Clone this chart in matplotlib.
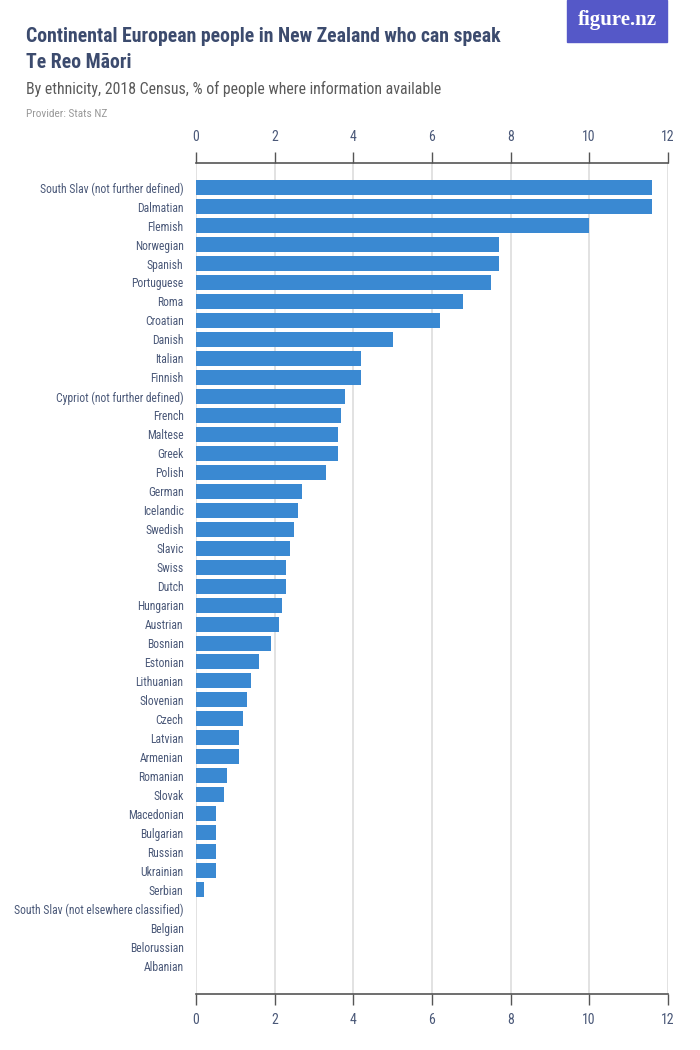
import matplotlib.pyplot as plt
from matplotlib import font_manager
from matplotlib.patches import Rectangle

# -------------------------
# DATA
# -------------------------
ethnicities = [
    "South Slav (not further defined)", "Dalmatian", "Flemish", "Norwegian",
    "Spanish", "Portuguese", "Roma", "Croatian", "Danish", "Italian",
    "Finnish", "Cypriot (not further defined)", "French", "Maltese", "Greek",
    "Polish", "German", "Icelandic", "Swedish", "Slavic", "Swiss", "Dutch",
    "Hungarian", "Austrian", "Bosnian", "Estonian", "Lithuanian", "Slovenian",
    "Czech", "Latvian", "Armenian", "Romanian", "Slovak", "Macedonian",
    "Bulgarian", "Russian", "Ukrainian", "Serbian",
    "South Slav (not elsewhere classified)", "Belgian", "Belorussian",
    "Albanian",
]
percent = [
    11.6, 11.6, 10.0, 7.7, 7.7, 7.5, 6.8, 6.2, 5.0, 4.2,
    4.2, 3.8, 3.7, 3.6, 3.6, 3.3, 2.7, 2.6, 2.5, 2.4,
    2.3, 2.3, 2.2, 2.1, 1.9, 1.6, 1.4, 1.3, 1.2, 1.1,
    1.1, 0.8, 0.7, 0.5, 0.5, 0.5, 0.5, 0.2, 0.0, 0.0,
    0.0, 0.0,
]
x_ticks = [0, 2, 4, 6, 8, 10, 12]


# pick a condensed face if one is installed, else plain sans
def pick_font():
    narrow = {}
    for f in font_manager.fontManager.ttflist:
        if f.style == 'normal' and str(f.stretch) in (
                'condensed', 'semi-condensed', 'extra-condensed', '75', '87'):
            narrow.setdefault(f.name, f.stretch)
    for name in ['Roboto Condensed', 'Liberation Sans Narrow', 'Noto Sans',
                 'Open Sans', 'DejaVu Sans', 'Roboto', 'Lato', 'Inter']:
        if name in narrow:
            return name, narrow[name], True
    return 'Liberation Sans', 'normal', False


fam, stretch, is_narrow = pick_font()
scale = 1.0 if is_narrow else 0.82
plt.rcParams['font.family'] = [fam, 'DejaVu Sans']
plt.rcParams['font.stretch'] = stretch

navy = '#3c4b6e'
tick_col = '#4a5878'
bar_col = '#3a89d2'

fig = plt.figure(figsize=(7, 10.5), dpi=100)
ax = fig.add_axes([0.28, 0.0533, 0.674, 0.7915])

pos = list(range(len(ethnicities)))
ax.barh(pos, percent, height=0.79, color=bar_col, zorder=3)

ax.set_xlim(0, 12)
ax.set_ylim(len(ethnicities) + 0.5, -1.3)
ax.set_xticks(x_ticks)
ax.set_xticklabels([str(t) for t in x_ticks])
ax.set_yticks(pos)
ax.set_yticklabels(ethnicities)

ax.grid(axis='x', color='#dddddd', linewidth=1.2, zorder=0)
ax.tick_params(axis='x', which='both', top=True, labeltop=True,
               bottom=True, labelbottom=True, direction='out',
               length=8, width=1, color='#555555', labelcolor=tick_col,
               labelsize=10 * scale, pad=6)
ax.tick_params(axis='y', length=0, pad=9, labelcolor=tick_col,
               labelsize=8.4 * scale)

for side in ['left', 'right']:
    ax.spines[side].set_visible(False)
for side in ['top', 'bottom']:
    ax.spines[side].set_color('#555555')
    ax.spines[side].set_linewidth(1.2)

# -------------------------
# HEADER
# -------------------------
fig.text(26 / 700, 1 - 36 / 1050,
         "Continental European people in New Zealand who can speak",
         fontsize=14.2 * scale, fontweight='bold', color=navy, va='center')
fig.text(26 / 700, 1 - 62 / 1050, "Te Reo M\u0101ori",
         fontsize=14.2 * scale, fontweight='bold', color=navy, va='center')
fig.text(26 / 700, 1 - 89 / 1050,
         "By ethnicity, 2018 Census, % of people where information available",
         fontsize=11.4 * scale, color='#5a5a5a', va='center')
fig.text(26 / 700, 1 - 114 / 1050, "Provider: Stats NZ",
         fontsize=8.2 * scale, color='#999999', va='center')

logo = Rectangle((567 / 700, 1 - 42 / 1050), 100 / 700, 42 / 1050,
                 transform=fig.transFigure, color='#5558c8', zorder=1)
fig.patches.append(logo)
fig.text(617 / 700, 1 - 20 / 1050, "figure.nz", fontsize=15,
         fontweight='bold', color='white', ha='center', va='center',
         family=['Liberation Serif', 'DejaVu Serif'], stretch='normal')

fig.savefig("out.png", dpi=100)
